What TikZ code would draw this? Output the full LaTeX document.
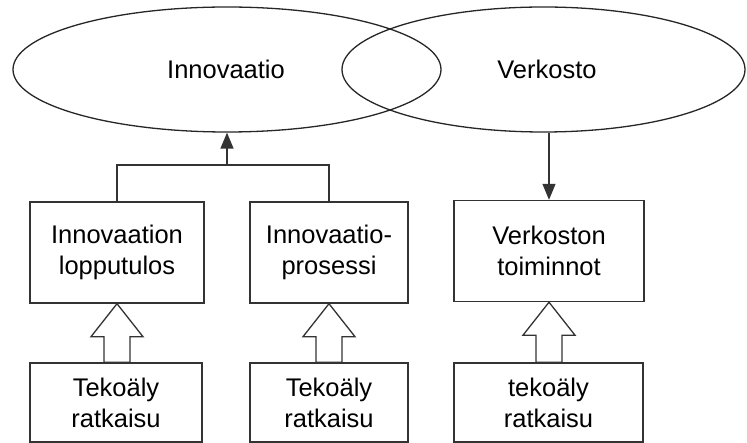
\documentclass[tikz,border=0pt]{standalone}
\usepackage{fontspec}
\setmainfont{Liberation Sans}
\usetikzlibrary{shapes.geometric,arrows.meta,calc}
\begin{document}
\begin{tikzpicture}[x=1pt,y=-1pt,
  every node/.style={font=\fontsize{25.5}{31}\selectfont, text=black, align=center, inner sep=0pt},
  oval/.style={draw=black!85, line width=1.3pt, ellipse, minimum width=428pt, minimum height=125pt},
  ovalr/.style={oval, minimum width=403pt},
  box/.style={draw=black!80, line width=1.4pt, rectangle, minimum height=101pt},
  lowbox/.style={draw=black!80, line width=1.4pt, rectangle, minimum height=79pt},
  link/.style={draw=black!80, line width=1.3pt},
  arr/.style={link, -{Triangle[length=16pt,width=13pt]}},
  blockarrow/.style={draw=black!80, line width=1.3pt, fill=white, line join=miter}
]
\useasboundingbox (0,0) rectangle (747,443);

% the two overlapping concepts
\node[oval]  (innov) at (227,69.5) {};
\node[ovalr] (verk)  at (543.5,69.5) {};
\node at (226,69) {Innovaatio};
\node at (547,69) {Verkosto};

% middle row of boxes
\node[box, minimum width=174pt] (b1) at (117,252.5) {Innovaation\\lopputulos};
\node[box, minimum width=158pt] (b2) at (329,252.5) {Innovaatio-\\prosessi};
\node[box, minimum width=190pt] (b3) at (549,251) {Verkoston\\toiminnot};

% bottom row of AI boxes
\node[lowbox, minimum width=172pt] (t1) at (116,402.5) {Tekoäly\\ratkaisu};
\node[lowbox, minimum width=158pt] (t2) at (329,402.5) {Tekoäly\\ratkaisu};
\node[lowbox, minimum width=189pt] (t3) at (548.5,402.5) {tekoäly\\ratkaisu};

% bracket joining the two innovation boxes, arrow up to the oval
\coordinate (bar) at (0,165);
\draw[link] (b1.north) -- (b1.north |- bar) -- (b2.north |- bar) -- (b2.north);
\draw[arr] (innov.south |- bar) -- (innov.south);

% network oval down to its box
\draw[arr] (b3.north |- verk.south) -- (b3.north);

% hollow block arrows from the AI boxes
\foreach \lo/\hi in {t1/b1, t2/b2, t3/b3}{
  \path (\hi.south) coordinate (tip) (\lo.north -| \hi.south) coordinate (foot);
  \draw[blockarrow]
    (tip) -- ($(tip)+(-26,33)$) -- ($(tip)+(-13,33)$) -- ($(foot)+(-13,0)$)
    -- ($(foot)+(13,0)$) -- ($(tip)+(13,33)$) -- ($(tip)+(26,33)$) -- cycle;
}
\end{tikzpicture}
\end{document}
